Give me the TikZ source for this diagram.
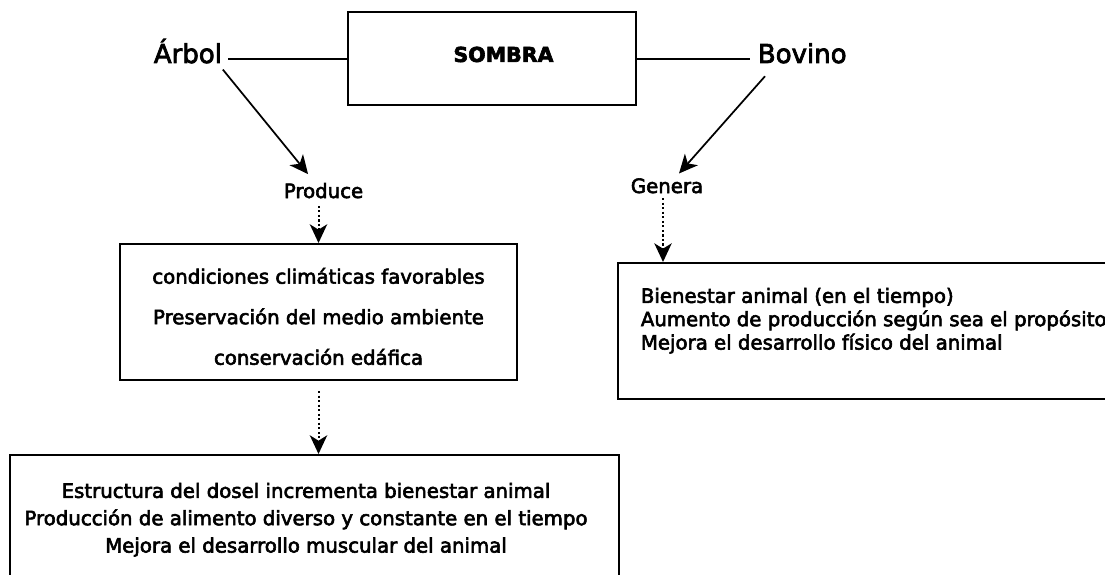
\documentclass[tikz,border=0pt]{standalone}
\usepackage{fontspec}
\setmainfont{DejaVu Sans}[FakeBold=3]
\usetikzlibrary{arrows.meta}

\tikzset{every picture/.style={line width=1.3pt}}
\tikzset{
  caja/.style={draw, line width=1.5pt, inner sep=0pt},
  txt/.style={inner sep=0pt, font=\fontsize{14.8}{#1}\selectfont},
  txt/.default=18,
  grande/.style={inner sep=0pt, font=\fontsize{19.5}{23}\selectfont},
  titulo/.style={inner sep=0pt, font=\fontsize{15.4}{18}\selectfont\bfseries},
  flecha/.style={-{Stealth[length=14pt,width=13pt,inset=4pt]}},
  punteada/.style={flecha, line width=1.5pt, dash pattern=on 1.6pt off 1.8pt},
}

\begin{document}
\begin{tikzpicture}[x=0.75pt,y=0.75pt,yscale=-1,xscale=1]
\useasboundingbox (0,0) rectangle (1105,574);
\clip (0,0) rectangle (1105,574);

% cajas
\node (sombra) [caja, minimum width=216pt, minimum height=69.75pt,
  label={[titulo, xshift=8.6pt, yshift=3.4pt]center:SOMBRA}] at (492,59) {};
\node (box1) [caja, minimum width=297.75pt, minimum height=102pt] at (318.5,312) {};
\node (box2) [caja, anchor=north west, minimum width=375pt, minimum height=102pt] at (617,262) {};
\node (box3) [caja, anchor=north west, minimum width=456.75pt, minimum height=96.75pt] at (9,454) {};

% textos
\node (arbol) [grande, anchor=base west] at (153,63) {Árbol};
\node (bovino) [grande, anchor=base west] at (757,63) {Bovino};
\node (produce) [txt, anchor=base west] at (283,198) {Produce};
\node (genera) [txt, anchor=base west] at (630,193) {Genera};
\node (txt1) [txt=30.4, anchor=north, align=center] at (318.5,267) {condiciones climáticas favorables\\ Preservación del medio ambiente\\ conservación edáfica};
\node (txt2) [txt=17.5, anchor=north west, align=left] at (640,287) {Bienestar animal (en el tiempo)\\ Aumento de producción según sea el propósito\\ Mejora el desarrollo físico del animal};
\node (txt3) [txt=20.5, anchor=north, align=center] at (306,482) {Estructura del dosel incrementa bienestar animal\\ Producción de alimento diverso y constante en el tiempo\\ Mejora el desarrollo muscular del animal};

% conectores
\draw (sombra.west) -- ([xshift=4pt]sombra.west -| arbol.east);
\draw (sombra.east) -- ([xshift=-5pt]sombra.east -| bovino.west);
\draw [flecha] ([yshift=4pt]arbol.south east) -- ([xshift=-11.6pt,yshift=-6pt]produce.north);
\draw [flecha] ([xshift=6pt,yshift=9pt]bovino.south west) -- ([xshift=9pt,yshift=-3pt]genera.north);
\draw [punteada, shorten <=5pt] (box1.north |- produce.south) -- (box1.north);
\draw [punteada, shorten <=7.5pt] (box1.south) -- (box1.south |- box3.north);
\draw [punteada, shorten <=3pt] ([xshift=-3pt]genera.south) -- ([xshift=-3pt]genera.south |- box2.north);
\end{tikzpicture}
\end{document}
